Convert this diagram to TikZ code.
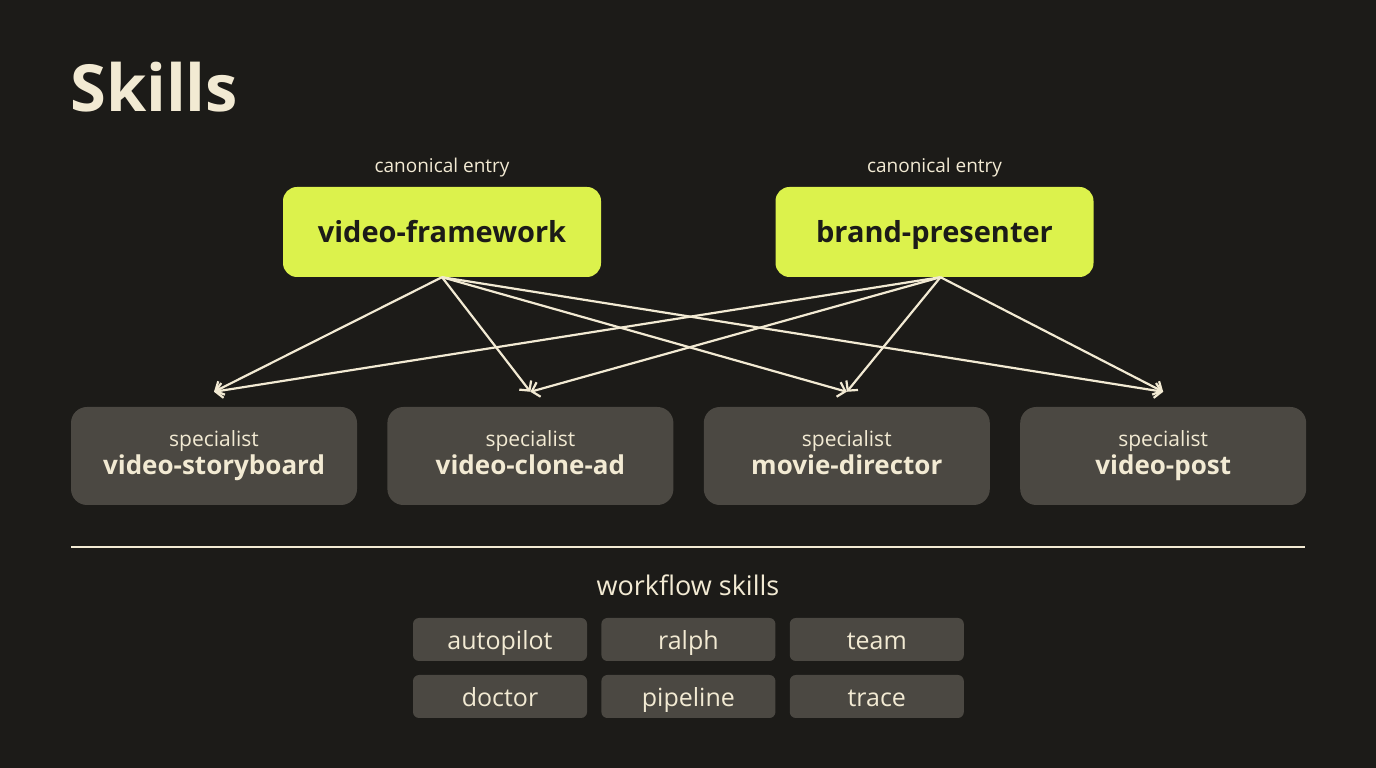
\documentclass[tikz,border=0pt]{standalone}
\usepackage{fontspec}
\setmainfont{Open Sans}
\usetikzlibrary{arrows.meta, positioning}

\definecolor{bgdark}{HTML}{1C1B18}
\definecolor{cream}{HTML}{F2EAD3}
\definecolor{lime}{HTML}{DCF24C}
\definecolor{cardgray}{HTML}{4B4842}

\newcommand{\specname}[1]{{\fontsize{26}{28}\selectfont\bfseries #1\vphantom{dy}}}

\begin{document}
\begin{tikzpicture}[
    x=1pt, y=1pt,
    >={Straight Barb[length=7pt, width=15pt]},
    entrynode/.style={fill=lime, rectangle, rounded corners=14pt,
        minimum width=318pt, minimum height=90pt,
        text height=22pt, text depth=0pt,
        text=bgdark, font=\fontsize{29}{32}\selectfont\bfseries},
    tagnode/.style={text=cream, font=\fontsize{19}{22}\selectfont, inner sep=0pt},
    specnode/.style={fill=cardgray, rectangle, rounded corners=16pt,
        minimum width=286pt, minimum height=98pt,
        text=cream, align=center, font=\fontsize{21}{28}\selectfont},
    flownode/.style={fill=cardgray, rectangle, rounded corners=6pt,
        minimum width=174pt, minimum height=43pt,
        text height=20pt, text depth=0pt, inner sep=0pt,
        text=cream, font=\fontsize{25}{28}\selectfont},
    fanout/.style={->, draw=cream, line width=2.2pt}
]
\fill[bgdark] (0,0) rectangle (1376,768);

\node[anchor=base west, inner sep=0pt, text=cream,
    font=\fontsize{65}{70}\selectfont\bfseries] (title) at (70,656) {Skills};

% entry skills
\node[entrynode] (framework) at (442,536) {video-framework};
\node[entrynode] (presenter) at (934.5,536) {brand-presenter};
\node[tagnode, above=10pt of framework] (tagf) {canonical entry};
\node[tagnode, above=10pt of presenter] (tagp) {canonical entry};

% specialists
\node[specnode] (storyboard) at (214,312) {specialist\\\specname{video-storyboard}};
\node[specnode, right=30pt of storyboard] (clonead) {specialist\\\specname{video-clone-ad}};
\node[specnode, right=30pt of clonead] (director) {specialist\\\specname{movie-director}};
\node[specnode, right=30pt of director] (post) {specialist\\\specname{video-post}};

\coordinate[above=15pt of storyboard] (inStoryboard);
\coordinate[above=15pt of clonead]    (inCloneAd);
\coordinate[above=15pt of director]   (inDirector);
\coordinate[above=15pt of post]       (inPost);

\draw[fanout] (framework.south) -- (inStoryboard);
\draw[fanout] (framework.south) -- (inCloneAd);
\draw[fanout] (framework.south) -- (inDirector);
\draw[fanout] (framework.south) -- (inPost);
\draw[fanout] ([xshift=6pt]presenter.south) -- (inStoryboard);
\draw[fanout] ([xshift=6pt]presenter.south) -- (inCloneAd);
\draw[fanout] ([xshift=6pt]presenter.south) -- (inDirector);
\draw[fanout] ([xshift=6pt]presenter.south) -- (inPost);

% separator
\coordinate (sepL) at (71,221);
\coordinate (sepR) at (1305,221);
\draw[cream, line width=2pt] (sepL) -- (sepR);

% workflow skills
\node[text=cream, font=\fontsize{27}{30}\selectfont] (flowtitle) at (688,183) {workflow skills};
\node[flownode] (autopilot) at (500,128.5) {autopilot};
\node[flownode, right=14pt of autopilot] (ralph) {ralph};
\node[flownode, right=14pt of ralph] (team) {team};
\node[flownode] (doctor) at (500,71.5) {doctor};
\node[flownode, right=14pt of doctor] (pipeline) {pipeline};
\node[flownode, right=14pt of pipeline] (trace) {trace};
\end{tikzpicture}
\end{document}
